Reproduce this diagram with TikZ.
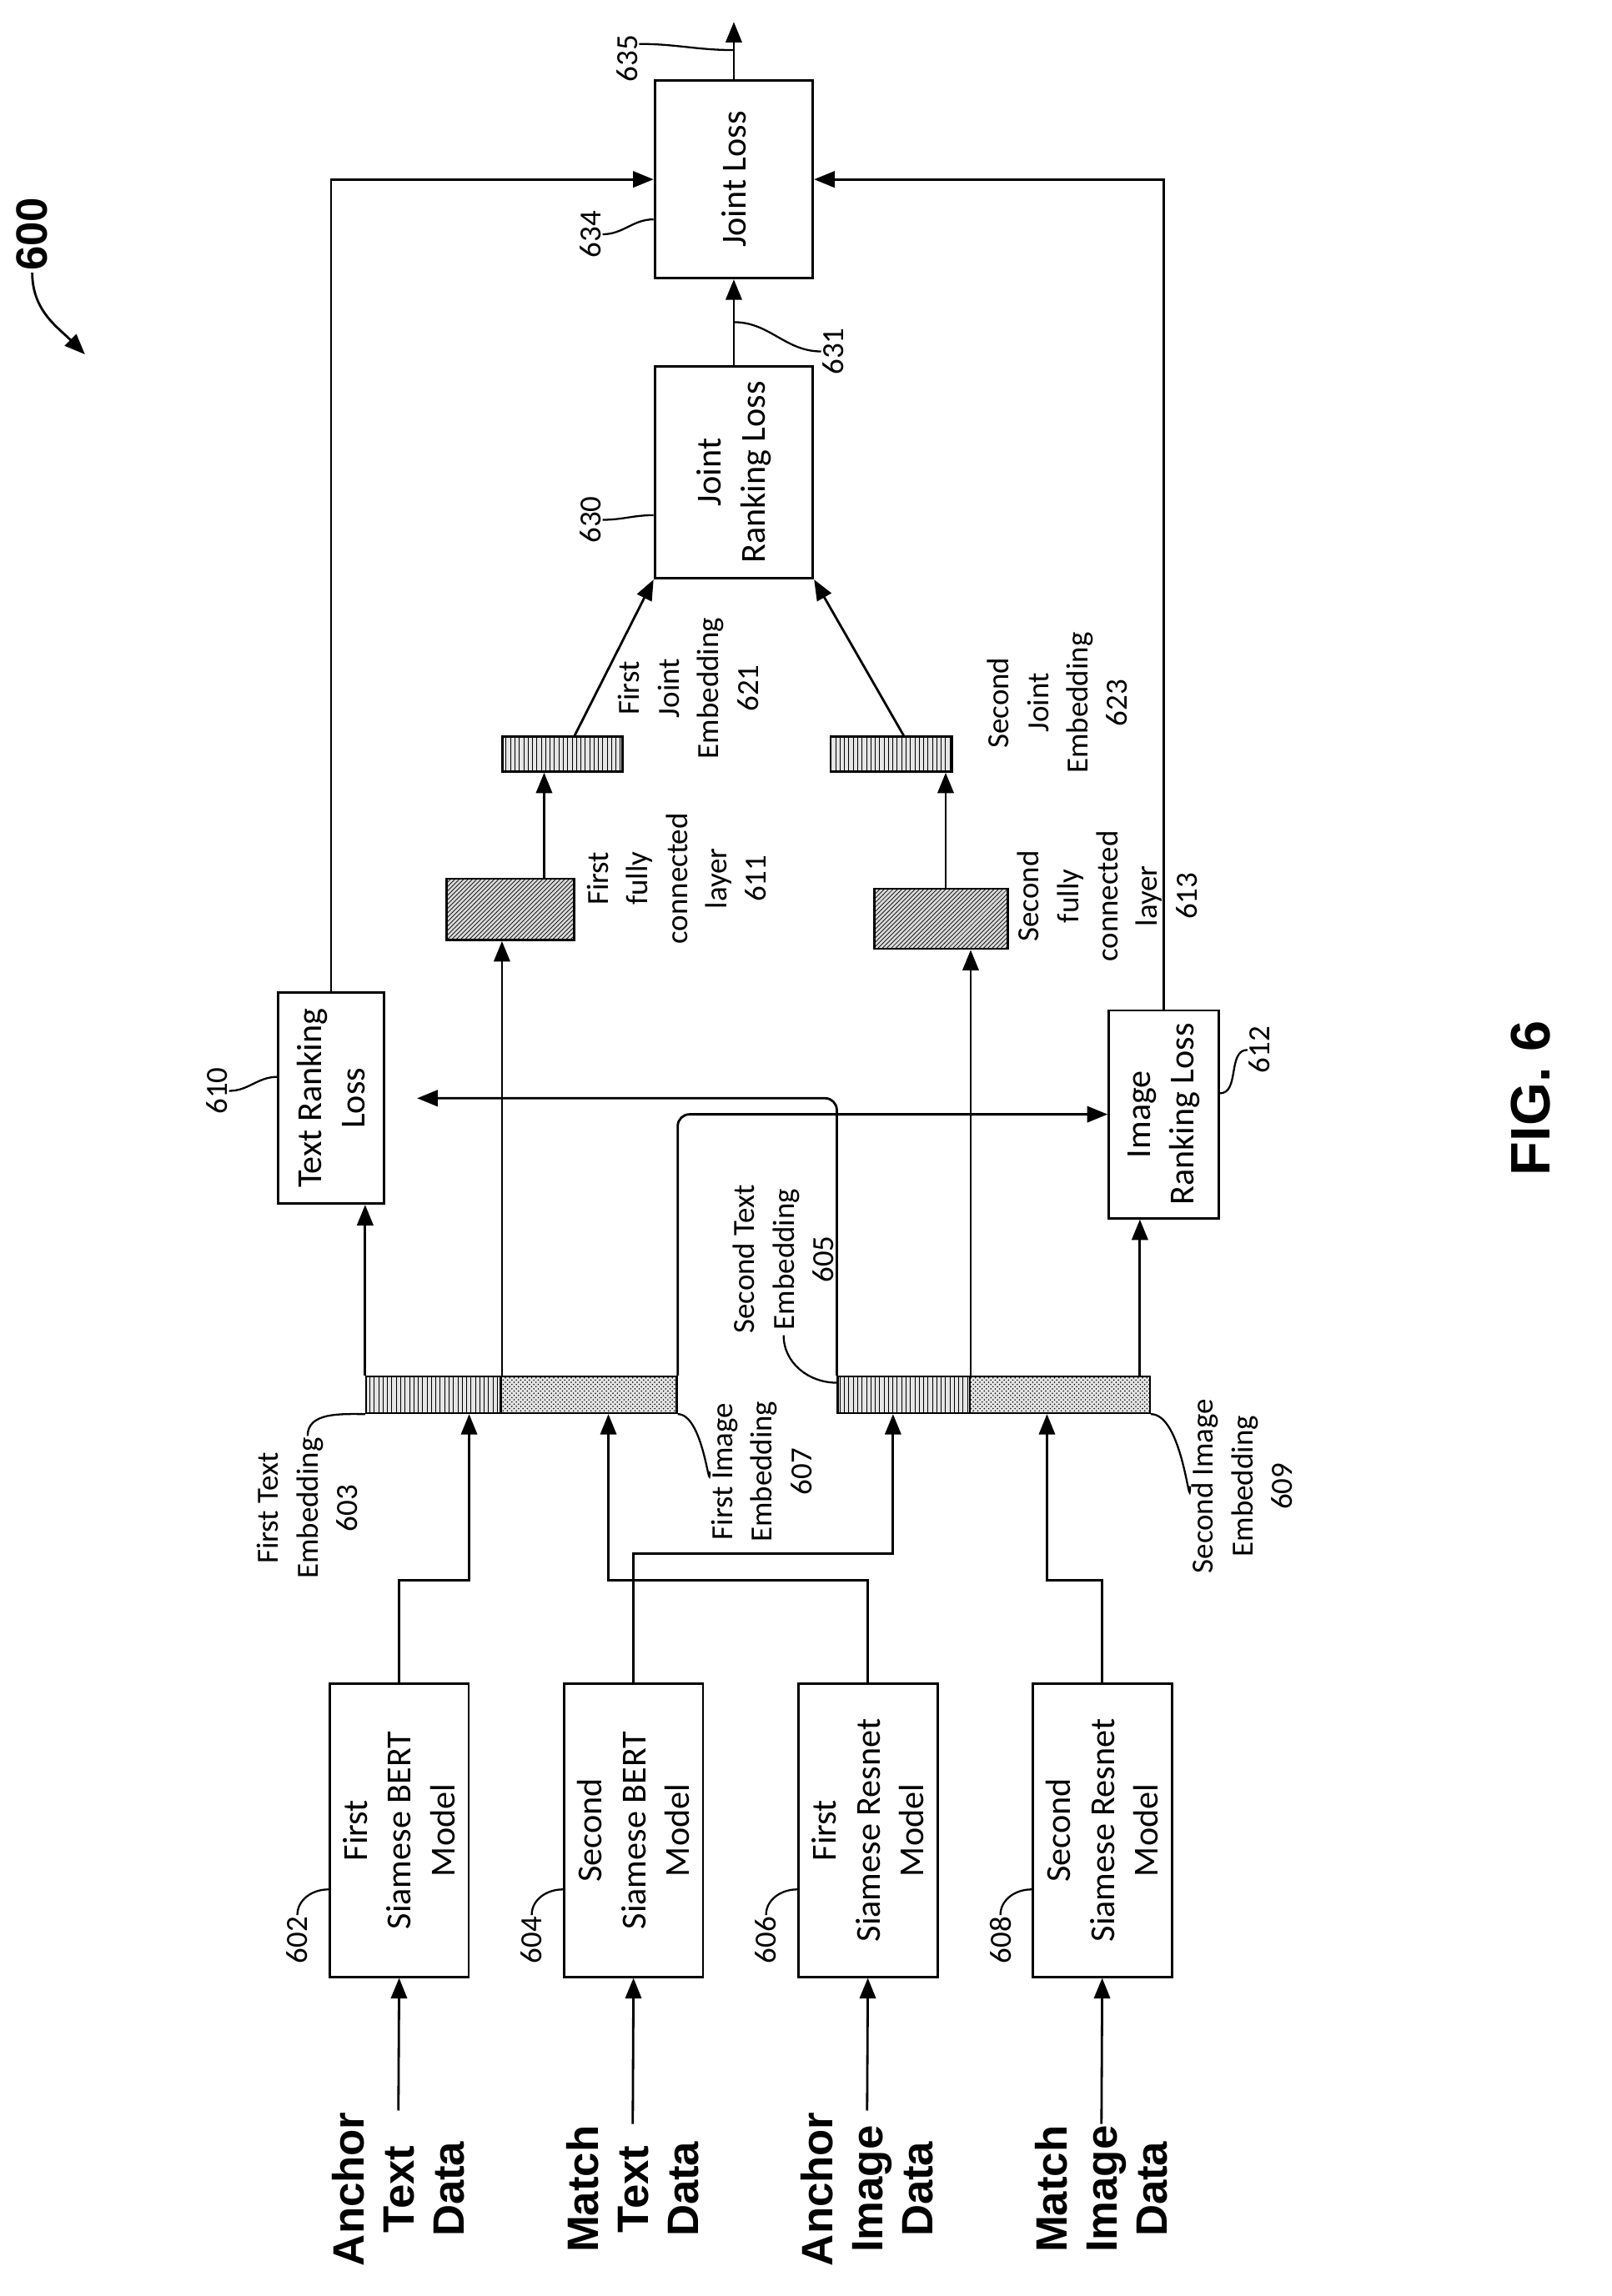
\documentclass[tikz,border=0pt]{standalone}
\usepackage{fontspec}
\setmainfont{Carlito}
\newfontfamily\arialb{Liberation Sans}
\usetikzlibrary{arrows.meta,patterns,calc}
\tikzset{
  box/.style={draw,line width=1.6pt,rotate=90,align=center,inner sep=0pt,
    font=\fontsize{24}{30}\selectfont},
  lbl/.style={rotate=90,align=center,inner sep=1pt,font=\fontsize{21}{27}\selectfont},
  inp/.style={rotate=90,align=center,inner sep=1pt,font=\arialb\bfseries\fontsize{30}{34}\selectfont},
  arr/.style={line width=1.6pt,-{Triangle[length=14pt,width=11pt]}},
  ln/.style={line width=1.6pt},
  tick/.style={line width=1.3pt},
  emb/.style={draw,line width=1.4pt,minimum height=25pt,inner sep=0pt,preaction={fill=gray!20}},
  txt/.style={emb,pattern=vertical lines},
  img/.style={emb,pattern=crosshatch dots},
  fc/.style={draw,line width=1.4pt,inner sep=0pt,preaction={fill=gray!30},pattern=north east lines}
}
\begin{document}
\begin{tikzpicture}[x=1pt,y=-1pt]
\useasboundingbox (0,0) rectangle (1100,1568);
% inputs
\node[inp] (in1) at (272,1495) {Anchor\\Text\\Data};
\node[inp] (in2) at (432,1495) {Match\\Text\\Data};
\node[inp] (in3) at (592,1495) {Anchor\\Image\\Data};
\node[inp] (in4) at (752,1495) {Match\\Image\\Data};
% siamese models
\node[box,minimum width=200pt,minimum height=95pt] (b602) at (272.5,1250) {First\\Siamese BERT\\Model};
\node[box,minimum width=200pt,minimum height=95pt] (b604) at (432.5,1250) {Second\\Siamese BERT\\Model};
\node[box,minimum width=200pt,minimum height=95pt] (b606) at (592.5,1250) {First\\Siamese Resnet\\Model};
\node[box,minimum width=200pt,minimum height=95pt] (b608) at (752.5,1250) {Second\\Siamese Resnet\\Model};
\foreach \i/\b in {in1/b602,in2/b604,in3/b606,in4/b608}
  \draw[arr] (\i.east) -- (\b.west);
\node[lbl] (l602) at (203,1325) {602};
\node[lbl] (l604) at (363,1325) {604};
\node[lbl] (l606) at (523,1325) {606};
\node[lbl] (l608) at (683,1325) {608};
\foreach \l/\b in {l602/b602,l604/b604,l606/b606,l608/b608}
  \draw[tick] (\l.east) to[out=90,in=180] ($(\b.north west)!.3!(\b.north east)$);
% embeddings
\node[txt,minimum width=92pt] (e603) at (296,952.5) {};
\node[img,minimum width=120pt] (e607) at (402,952.5) {};
\node[txt,minimum width=90pt] (e605) at (617,952.5) {};
\node[img,minimum width=123pt] (e609) at (723.5,952.5) {};
\draw[arr] (b602.east) -- ++(0,-70) -| ($(e603.south west)!.76!(e603.south east)$);
\draw[arr] (b604.east) -- ++(0,-88) -| ($(e605.south west)!.42!(e605.south east)$);
\draw[arr] (b606.east) -- ++(0,-70) -| ($(e607.south west)!.61!(e607.south east)$);
\draw[arr] (b608.east) -- ++(0,-70) -| ($(e609.south west)!.43!(e609.south east)$);
\node[lbl] (l603) at (210,1030) {First Text\\Embedding\\603};
\node[lbl] (l607) at (520,1005) {First Image\\Embedding\\607};
\node[lbl] (l605) at (535,860) {Second Text\\Embedding\\605};
\node[lbl] (l609) at (848,1015) {Second Image\\Embedding\\609};
\draw[tick] (l603.east) to[out=90,in=180] (e603.south west);
\draw[tick] (e607.south east) to[out=0,in=270] (l607.north);
\draw[tick] (l605.west) to[out=270,in=180] ([yshift=-5pt]e605.north west);
\draw[tick] (e609.south east) to[out=0,in=270] (l609.north);
% ranking losses
\node[box,minimum width=144pt,minimum height=72pt] (b610) at (226,750) {Text Ranking\\Loss};
\node[box,minimum width=142pt,minimum height=75pt] (b612) at (794.5,761) {Image\\Ranking Loss};
\node[lbl] (l610) at (148,745) {610};
\node[lbl] (l612) at (860,717) {612};
\draw[tick] (l610.south) to[out=0,in=180] ($(b610.north west)!.6!(b610.north east)$);
\draw[tick] (l612.north) to[out=180,in=0] ($(b612.south west)!.6!(b612.south east)$);
\draw[arr] (e603.north west) -- (e603.north west |- b610.west);
\draw[arr,rounded corners=8pt] (e607.north east) |- (b612.north);
\draw[arr,rounded corners=8pt] (e605.north west) |- ([xshift=22pt]b610.south);
\draw[arr] ($(e609.north west)!.94!(e609.north east)$) coordinate (t609) -- (t609 |- b612.west);
% fully connected layers
\node[fc,minimum width=87pt,minimum height=42pt] (f611) at (348.5,621) {};
\node[fc,minimum width=91pt,minimum height=41pt] (f613) at (642.5,627.5) {};
\draw[arr] (e603.north east) -- (e603.north east |- f611.south);
\draw[arr] (e605.north east) -- (e605.north east |- f613.south);
\node[lbl] (l611) at (462,600) {First\\fully\\connected\\layer\\611};
\node[lbl] (l613) at (756,612) {Second\\fully\\connected\\layer\\613};
% joint embeddings
\node[txt,minimum width=82pt,minimum height=24pt] (j621) at (384,515) {};
\node[txt,minimum width=83pt,minimum height=24pt] (j623) at (608.5,515) {};
\path ($(j621.south west)!.35!(j621.south east)$) coordinate (t621);
\path ($(j623.south west)!.94!(j623.south east)$) coordinate (t623);
\draw[arr] (t621 |- f611.north) -- (t621);
\draw[arr] (t623 |- f613.north) -- (t623);
\node[lbl] (l621) at (470,470) {First\\Joint\\Embedding\\621};
\node[lbl] (l623) at (722,480) {Second\\Joint\\Embedding\\623};
% joint losses
\node[box,minimum width=145pt,minimum height=108pt] (b630) at (501,322.5) {Joint\\Ranking Loss};
\node[box,minimum width=135pt,minimum height=108pt] (b634) at (501,122.5) {Joint Loss};
\draw[arr] ($(j621.north west)!.6!(j621.north east)$) -- (b630.north west);
\draw[arr] ($(j623.north west)!.6!(j623.north east)$) -- (b630.south west);
\draw[arr] (b630.east) -- (b634.west);
\coordinate (out) at (501,15);
\draw[arr] (b634.east) -- (out);
\draw[arr] (b610.east) |- (b634.north);
\draw[arr] (b612.east) |- (b634.south);
\node[lbl] (l630) at (403,355) {630};
\node[lbl] (l634) at (403,160) {634};
\node[lbl] (l631) at (569,240) {631};
\node[lbl] (l635) at (428,40) {635};
\draw[tick] (l630.south) to[out=0,in=180] ($(b630.north west)!.3!(b630.north east)$);
\draw[tick] (l634.south) to[out=0,in=180] ($(b634.north west)!.3!(b634.north east)$);
\draw[tick] (l631.north) to[out=180,in=0] ($(b630.east)!.5!(b634.west)$);
\draw[tick] ([yshift=10pt]l635.south) to[out=0,in=180] ($(b634.east)+(0,-20)$);
% figure labels
\node[inp] (l600) at (22,160) {600};
\coordinate (p600) at (58,242);
\draw[arr] (l600.west) to[out=270,in=135] (p600);
\node[inp,font=\arialb\bfseries\fontsize{38}{40}\selectfont] (fig) at (1045,750) {FIG. 6};
\end{tikzpicture}
\end{document}
